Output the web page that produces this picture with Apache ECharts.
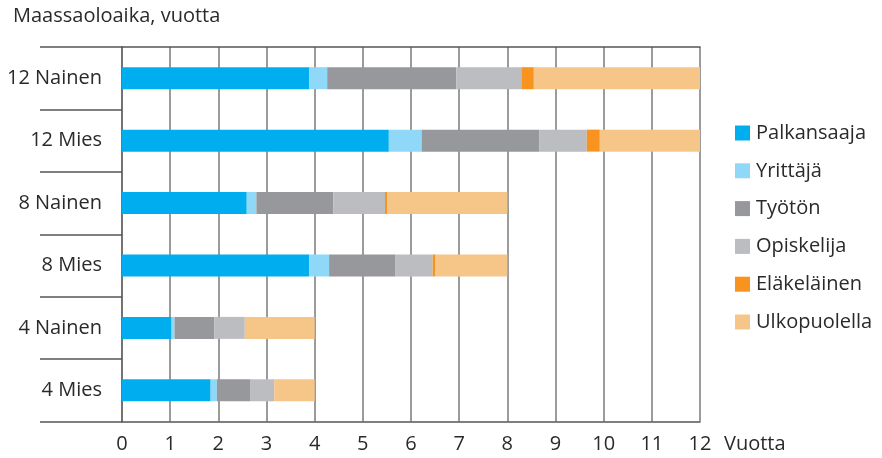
<!DOCTYPE html>
<html>
<head>
<meta charset="utf-8">
<script src="https://cdn.jsdelivr.net/npm/echarts@6/dist/echarts.min.js"></script>
<style>
html,body{margin:0;padding:0;background:#fff;}
#main{width:882px;height:458px;}
</style>
</head>
<body>
<div id="main"></div>
<script>
const categories = ['12 Nainen', '12 Mies', '8 Nainen', '8 Mies', '4 Nainen', '4 Mies'];
const seriesNames = ['Palkansaaja', 'Yrittäjä', 'Työtön', 'Opiskelija', 'Eläkeläinen', 'Ulkopuolella'];
const palkansaaja  = [3.89, 5.54, 2.59, 3.89, 1.03, 1.84];
const yrittaja     = [0.37, 0.68, 0.20, 0.41, 0.06, 0.13];
const tyoton       = [2.68, 2.44, 1.60, 1.38, 0.83, 0.70];
const opiskelija   = [1.35, 0.99, 1.07, 0.77, 0.63, 0.49];
const elakelainen  = [0.26, 0.27, 0.05, 0.06, 0.00, 0.00];
const ulkopuolella = [3.45, 2.08, 2.49, 1.49, 1.45, 0.84];
const xTicks = [0, 1, 2, 3, 4, 5, 6, 7, 8, 9, 10, 11, 12];
const colors = ['#00AEEF', '#8FD8F7', '#97989C', '#BCBDC1', '#F7931E', '#F6C689'];
const values = [palkansaaja, yrittaja, tyoton, opiskelija, elakelainen, ulkopuolella];

const FONT = 'Open Sans';
const FS = 20;
const TXT = '#2a2a2a';
const chart = echarts.init(document.getElementById('main'), null, {renderer: 'canvas'});
const option = {
  animation: false,
  textStyle: {fontFamily: FONT},
  title: {
    text: 'Maassaoloaika, vuotta',
    left: 8, top: 1,
    textStyle: {fontFamily: FONT, fontSize: FS, fontWeight: 'normal', color: TXT}
  },
  legend: {
    orient: 'vertical',
    left: 730, top: 118,
    itemWidth: 15, itemHeight: 15, itemGap: 17.8,
    icon: 'rect',
    data: seriesNames,
    textStyle: {fontFamily: FONT, fontSize: FS, color: TXT, padding: [0, 0, 0, 1]}
  },
  grid: {left: 122, right: 182, top: 47, bottom: 36.5, containLabel: false},
  xAxis: [{
    type: 'value',
    min: xTicks[0], max: xTicks[xTicks.length - 1], interval: 1,
    position: 'bottom',
    axisLine: {show: true, lineStyle: {color: '#555', width: 1.5}},
    axisTick: {show: false},
    splitLine: {show: true, lineStyle: {color: '#7a7a7a', width: 1.5}},
    axisLabel: {fontFamily: FONT, fontSize: FS, color: TXT, margin: 13},
    name: 'Vuotta',
    nameLocation: 'end',
    nameGap: 24,
    nameTextStyle: {fontFamily: FONT, fontSize: FS, color: TXT, verticalAlign: 'top', padding: [13, 0, 0, 0]}
  }, {
    type: 'value',
    min: xTicks[0], max: xTicks[xTicks.length - 1], interval: 1,
    position: 'top',
    axisLine: {show: true, lineStyle: {color: '#555', width: 1.5}},
    axisTick: {show: false},
    axisLabel: {show: false},
    splitLine: {show: false}
  }],
  yAxis: {
    type: 'category',
    data: categories,
    inverse: true,
    axisLine: {show: true, lineStyle: {color: '#666', width: 1.5}},
    axisTick: {show: true, length: 82, lineStyle: {color: '#555', width: 1.5}},
    axisLabel: {fontFamily: FONT, fontSize: FS, color: TXT, margin: 20}
  },
  series: seriesNames.map((name, i) => ({
    name: name,
    type: 'bar',
    stack: 'total',
    barWidth: 22,
    itemStyle: {color: colors[i]},
    data: values[i]
  }))
};
chart.setOption(option);
</script>
</body>
</html>
